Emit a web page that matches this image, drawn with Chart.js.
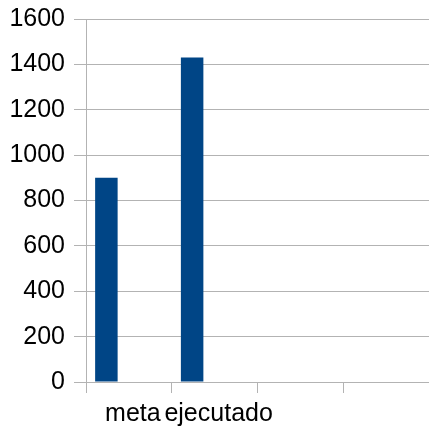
<!DOCTYPE html>
<html>
<head>
<meta charset="utf-8">
<script src="https://cdn.jsdelivr.net/npm/chart.js@4"></script>
<style>
html,body{margin:0;padding:0;background:#fff;overflow:hidden;}
canvas{display:block;}
</style>
</head>
<body>
<canvas id="c" width="429" height="431" style="width:429px;height:431px"></canvas>
<script>
const categories = ['meta', 'ejecutado', '', ''];
const serie1 = [900, 1430, null, null];
const serie2 = [null, null, null, null];
const serie3 = [null, null, null, null];
const yTicks = [0, 200, 400, 600, 800, 1000, 1200, 1400, 1600];

const font = {family: '"Liberation Sans", Arial, sans-serif', size: 25};
const gridColor = '#b3b3b3';

new Chart(document.getElementById('c'), {
  type: 'bar',
  data: {
    labels: categories,
    datasets: [
      {label: 'Serie 1', data: serie1, backgroundColor: '#004586', categoryPercentage: 0.787, barPercentage: 1},
      {label: 'Serie 2', data: serie2, backgroundColor: '#ff420e', categoryPercentage: 0.787, barPercentage: 1},
      {label: 'Serie 3', data: serie3, backgroundColor: '#ffd320', categoryPercentage: 0.787, barPercentage: 1}
    ]
  },
  options: {
    responsive: false,
    maintainAspectRatio: false,
    animation: false,
    devicePixelRatio: 1,
    layout: {padding: {top: 19, left: 0, right: 0, bottom: 0}},
    plugins: {legend: {display: false}, tooltip: {enabled: false}},
    scales: {
      x: {
        offset: true,
        grid: {offset: true, drawOnChartArea: false, drawTicks: true, tickLength: 11, color: gridColor, lineWidth: 1},
        border: {display: false},
        ticks: {font: font, color: '#000', padding: 6, maxRotation: 0, autoSkip: false, labelOffset: 4},
        afterFit: s => { s.height = 49; s.paddingRight = 0; s.paddingLeft = 0; }
      },
      y: {
        min: 0, max: 1600,
        afterBuildTicks: s => { s.ticks = yTicks.map(v => ({value: v})); },
        grid: {color: gridColor, lineWidth: 1, tickLength: 12, drawTicks: true},
        border: {display: true, color: gridColor, width: 1},
        ticks: {font: font, color: '#000', padding: 9, callback: v => String(v)},
        afterFit: s => { s.width = 86; s.paddingTop = 0; s.paddingBottom = 0; }
      }
    }
  }
});
</script>
</body>
</html>
